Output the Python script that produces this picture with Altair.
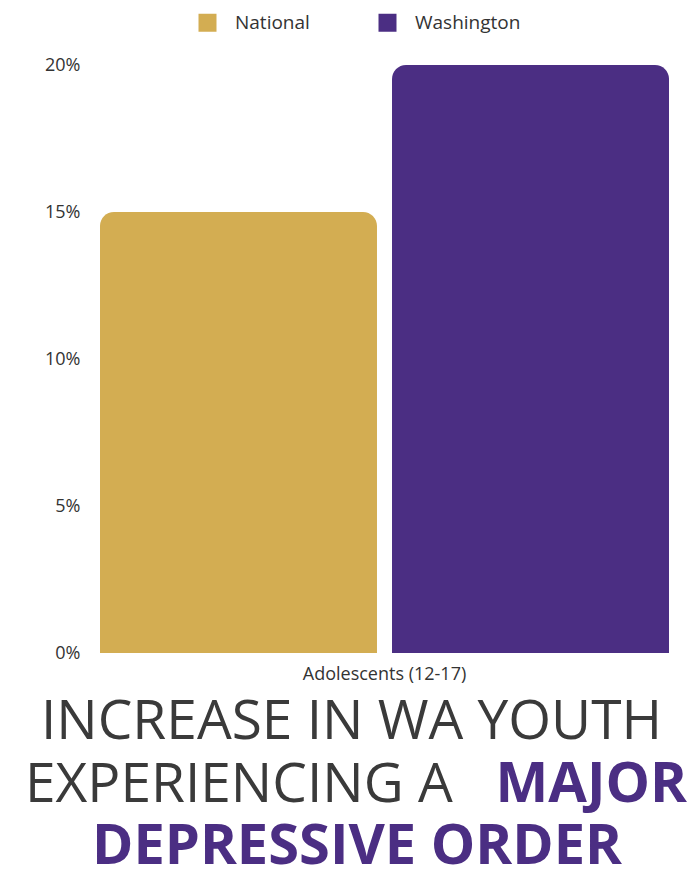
import altair as alt
import pandas as pd

categories = ["Adolescents (12-17)", "Adolescents (12-17)"]
series = ["National", "Washington"]
values = [0.15, 0.20]
y_ticks = [0, 0.05, 0.10, 0.15, 0.20]
colors = ["#D3AD52", "#4B2E83"]
title_line1 = ["INCREASE IN WA YOUTH"]
title_line2a = ["EXPERIENCING A"]
title_line2b = ["MAJOR"]
title_line3 = ["DEPRESSIVE ORDER"]

FONT = "Open Sans"
GRAY = "#3a3a3a"
PURPLE = "#4B2E83"

df = pd.DataFrame({"group": categories, "series": series, "value": values})

bars = alt.Chart(df).mark_bar(cornerRadiusTopLeft=14, cornerRadiusTopRight=14).encode(
    x=alt.X(
        "group:N",
        title=None,
        scale=alt.Scale(paddingInner=0, paddingOuter=0.0123),
        axis=alt.Axis(labelAngle=0, ticks=False, domain=False, labelFontSize=18,
                      labelPadding=12, labelColor="#333", labelFont=FONT),
    ),
    xOffset=alt.XOffset("series:N", scale=alt.Scale(paddingInner=0.0514, paddingOuter=0)),
    y=alt.Y(
        "value:Q",
        title=None,
        scale=alt.Scale(domain=[0, 0.2], nice=False),
        axis=alt.Axis(values=y_ticks, format=".0%", ticks=False, domain=False, grid=False,
                      labelFontSize=18, labelPadding=13, labelColor="#333", labelFont=FONT),
    ),
    color=alt.Color(
        "series:N",
        scale=alt.Scale(domain=series, range=colors),
        legend=alt.Legend(title=None, orient="none", legendX=105, legendY=-52,
                          direction="horizontal", symbolType="square", symbolSize=324,
                          symbolStrokeWidth=0, labelFontSize=19, labelFont=FONT,
                          labelColor="#333", labelOffset=18, columnPadding=68, padding=0),
    ),
)


def text_layer(lines, x, y, color, weight, size, align="center"):
    return alt.Chart(pd.DataFrame({"t": lines})).mark_text(
        font=FONT, fontSize=size, fontWeight=weight, color=color, align=align,
        baseline="alphabetic"
    ).encode(text="t:N", x=alt.value(x), y=alt.value(y))


t1 = text_layer(title_line1, 258.5, 674, GRAY, 400, 55)
t2a = text_layer(title_line2a, -68, 737, GRAY, 400, 55, align="left")
t2b = text_layer(title_line2b, 594, 737, PURPLE, 700, 56, align="right")
t3 = text_layer(title_line3, 264, 799, PURPLE, 700, 56)

chart = alt.layer(bars, t1, t2a, t2b, t3).properties(
    width=583,
    height=588,
    autosize=alt.AutoSizeParams(type="none"),
    padding={"left": 85, "top": 57, "right": 13, "bottom": 212},
).configure_view(stroke=None)

chart.save("out.html", embed_options={"renderer": "svg", "actions": False})
